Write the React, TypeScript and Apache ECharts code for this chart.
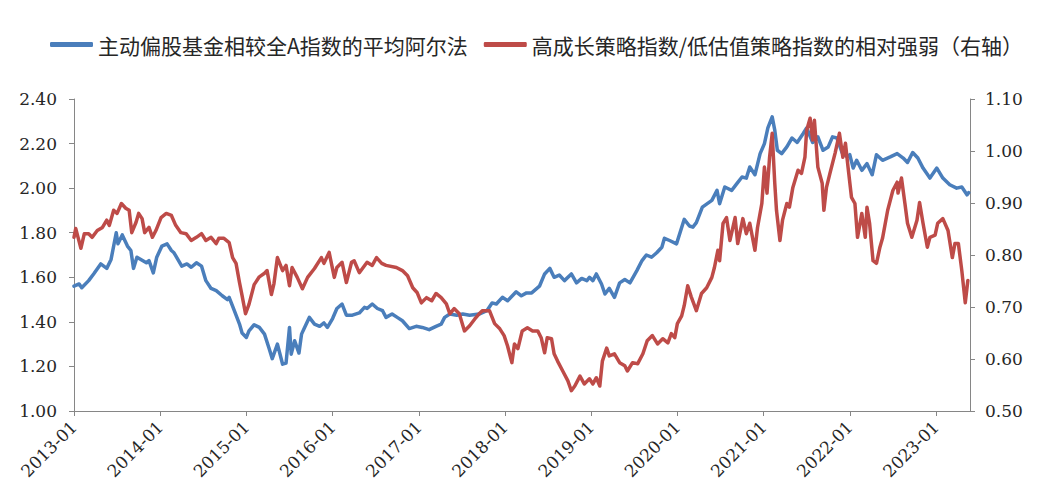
import React, { useEffect, useRef } from "react";
import * as echarts from "echarts";

const legendNames = [
  "主动偏股基金相较全A指数的平均阿尔法",
  "高成长策略指数/低估值策略指数的相对强弱（右轴）",
];

const yearTicks = [2013, 2014, 2015, 2016, 2017, 2018, 2019, 2020, 2021, 2022, 2023];

// decimal-year positions and values of the alpha series (left axis)
const alphaDates = [
  2013.0, 2013.06, 2013.09, 2013.17, 2013.23, 2013.31, 2013.38, 2013.43, 2013.49, 2013.51,
  2013.56, 2013.62, 2013.66, 2013.69, 2013.73, 2013.84, 2013.87, 2013.92, 2013.96, 2014.02,
  2014.08, 2014.13, 2014.16, 2014.25, 2014.31, 2014.36, 2014.42, 2014.48, 2014.53, 2014.59,
  2014.65, 2014.72, 2014.78, 2014.8, 2014.86, 2014.92, 2014.95, 2015.0, 2015.03, 2015.09,
  2015.15, 2015.21, 2015.26, 2015.3, 2015.36, 2015.42, 2015.46, 2015.5, 2015.52, 2015.56,
  2015.61, 2015.64, 2015.67, 2015.73, 2015.79, 2015.85, 2015.9, 2015.94, 2016.0, 2016.05,
  2016.11, 2016.16, 2016.23, 2016.31, 2016.37, 2016.4, 2016.46, 2016.52, 2016.58, 2016.62,
  2016.69, 2016.75, 2016.81, 2016.89, 2016.97, 2017.04, 2017.12, 2017.2, 2017.26, 2017.3,
  2017.36, 2017.44, 2017.51, 2017.59, 2017.7, 2017.79, 2017.85, 2017.9, 2017.97, 2018.03,
  2018.13, 2018.19, 2018.25, 2018.31, 2018.4, 2018.46, 2018.52, 2018.57, 2018.63, 2018.69,
  2018.77, 2018.83, 2018.89, 2018.95, 2018.98, 2019.02, 2019.06, 2019.12, 2019.16, 2019.21,
  2019.27, 2019.33, 2019.39, 2019.45, 2019.53, 2019.59, 2019.64, 2019.7, 2019.76, 2019.82,
  2019.85, 2019.91, 2019.99, 2020.08, 2020.14, 2020.18, 2020.22, 2020.29, 2020.4, 2020.46,
  2020.49, 2020.55, 2020.63, 2020.69, 2020.75, 2020.8, 2020.84, 2020.9, 2020.96, 2021.01,
  2021.05, 2021.1, 2021.13, 2021.16, 2021.21, 2021.27, 2021.33, 2021.39, 2021.46, 2021.5,
  2021.57, 2021.63, 2021.69, 2021.75, 2021.8, 2021.85, 2021.91, 2021.97, 2022.0, 2022.04,
  2022.08, 2022.14, 2022.2, 2022.26, 2022.31, 2022.38, 2022.47, 2022.55, 2022.62, 2022.67,
  2022.73, 2022.79, 2022.85, 2022.93, 2023.01, 2023.08, 2023.16, 2023.24, 2023.3, 2023.36,
  2023.38,
];
const alphaValues = [
  1.56, 1.57, 1.553, 1.585, 1.616, 1.66, 1.64, 1.68, 1.8, 1.75,
  1.79, 1.74, 1.72, 1.64, 1.69, 1.665, 1.675, 1.62, 1.69, 1.74,
  1.75, 1.72, 1.71, 1.65, 1.66, 1.645, 1.665, 1.65, 1.585, 1.55,
  1.54, 1.517, 1.5, 1.51, 1.45, 1.39, 1.35, 1.33, 1.36, 1.387,
  1.375, 1.345, 1.285, 1.235, 1.3, 1.21, 1.215, 1.375, 1.255, 1.315,
  1.26, 1.345, 1.37, 1.42, 1.39, 1.38, 1.395, 1.375, 1.415, 1.46,
  1.48, 1.43, 1.43, 1.44, 1.465, 1.46, 1.48, 1.46, 1.45, 1.42,
  1.435, 1.42, 1.405, 1.37, 1.38, 1.375, 1.365, 1.38, 1.39, 1.42,
  1.435, 1.43, 1.435, 1.43, 1.435, 1.45, 1.485, 1.48, 1.51, 1.495,
  1.535, 1.517, 1.53, 1.53, 1.56, 1.615, 1.64, 1.6, 1.61, 1.585,
  1.615, 1.575, 1.595, 1.585, 1.6, 1.585, 1.615, 1.57, 1.525, 1.55,
  1.51, 1.575, 1.59, 1.575, 1.63, 1.675, 1.7, 1.69, 1.71, 1.735,
  1.775, 1.765, 1.75, 1.86, 1.83, 1.825, 1.845, 1.915, 1.945, 1.99,
  1.93, 2.005, 1.99, 2.02, 2.05, 2.045, 2.095, 2.06, 2.155, 2.2,
  2.27, 2.32, 2.26, 2.17, 2.155, 2.185, 2.225, 2.205, 2.245, 2.27,
  2.205, 2.23, 2.17, 2.185, 2.23, 2.225, 2.16, 2.14, 2.15, 2.09,
  2.125, 2.08, 2.11, 2.06, 2.15, 2.125, 2.14, 2.155, 2.135, 2.115,
  2.16, 2.135, 2.09, 2.045, 2.09, 2.045, 2.015, 2.0, 2.005, 1.97,
  1.98,
];

// decimal-year positions and values of the relative-strength series (right axis)
const strengthDates = [
  2013.0, 2013.02, 2013.05, 2013.08, 2013.12, 2013.17, 2013.21, 2013.27, 2013.33, 2013.38,
  2013.41, 2013.46, 2013.5, 2013.55, 2013.6, 2013.64, 2013.67, 2013.72, 2013.75, 2013.79,
  2013.82, 2013.87, 2013.91, 2013.95, 2014.01, 2014.07, 2014.13, 2014.18, 2014.24, 2014.3,
  2014.36, 2014.42, 2014.48, 2014.53, 2014.59, 2014.65, 2014.68, 2014.74, 2014.8, 2014.84,
  2014.88, 2014.92, 2014.95, 2014.99, 2015.03, 2015.09, 2015.15, 2015.21, 2015.24, 2015.29,
  2015.32, 2015.36, 2015.42, 2015.46, 2015.5, 2015.53, 2015.59, 2015.65, 2015.71, 2015.79,
  2015.87, 2015.9, 2015.96, 2016.02, 2016.05, 2016.11, 2016.16, 2016.22, 2016.25, 2016.31,
  2016.4, 2016.46, 2016.51, 2016.57, 2016.62, 2016.74, 2016.81, 2016.87, 2016.93, 2016.98,
  2017.03, 2017.09, 2017.15, 2017.2, 2017.26, 2017.32, 2017.36, 2017.41, 2017.47, 2017.53,
  2017.59, 2017.65, 2017.7, 2017.74, 2017.82, 2017.88, 2017.94, 2017.99, 2018.03, 2018.08,
  2018.11, 2018.15, 2018.2, 2018.26, 2018.32, 2018.38, 2018.42, 2018.46, 2018.49, 2018.54,
  2018.57, 2018.61, 2018.67, 2018.73, 2018.77, 2018.81, 2018.87, 2018.92, 2018.98, 2019.02,
  2019.06, 2019.1, 2019.13, 2019.18, 2019.21, 2019.27, 2019.33, 2019.39, 2019.42, 2019.48,
  2019.54, 2019.6, 2019.65, 2019.71, 2019.77, 2019.83, 2019.89, 2019.93, 2019.97, 2020.0,
  2020.05, 2020.08, 2020.12, 2020.16, 2020.22, 2020.28, 2020.34, 2020.4, 2020.43, 2020.47,
  2020.49, 2020.53, 2020.57, 2020.61, 2020.67, 2020.7, 2020.76, 2020.8, 2020.84, 2020.9,
  2020.93, 2020.98, 2021.01, 2021.04, 2021.07, 2021.1, 2021.13, 2021.15, 2021.19, 2021.22,
  2021.27, 2021.3, 2021.34, 2021.4, 2021.44, 2021.48, 2021.5, 2021.54, 2021.57, 2021.59,
  2021.63, 2021.68, 2021.7, 2021.73, 2021.77, 2021.83, 2021.88, 2021.92, 2021.95, 2021.98,
  2022.02, 2022.06, 2022.09, 2022.14, 2022.18, 2022.2, 2022.23, 2022.27, 2022.31, 2022.35,
  2022.38, 2022.44, 2022.5, 2022.55, 2022.56, 2022.6, 2022.64, 2022.67, 2022.72, 2022.78,
  2022.81, 2022.85, 2022.9, 2022.93, 2022.99, 2023.02, 2023.08, 2023.14, 2023.19, 2023.22,
  2023.26, 2023.3, 2023.34, 2023.37,
];
const strengthValues = [
  0.834, 0.851, 0.832, 0.813, 0.841, 0.841, 0.834, 0.847, 0.853, 0.867,
  0.857, 0.886, 0.88, 0.899, 0.89, 0.886, 0.843, 0.863, 0.88, 0.87,
  0.843, 0.853, 0.834, 0.847, 0.872, 0.88, 0.876, 0.857, 0.843, 0.841,
  0.828, 0.834, 0.841, 0.828, 0.834, 0.822, 0.832, 0.832, 0.824, 0.795,
  0.784, 0.747, 0.722, 0.687, 0.705, 0.743, 0.758, 0.765, 0.77, 0.724,
  0.745, 0.795, 0.77, 0.78, 0.741, 0.776, 0.757, 0.735, 0.757, 0.774,
  0.795, 0.784, 0.805, 0.757, 0.776, 0.786, 0.747, 0.786, 0.789, 0.766,
  0.786, 0.78, 0.795, 0.784, 0.78, 0.776, 0.77, 0.76, 0.737, 0.728,
  0.708, 0.718, 0.712, 0.726, 0.718, 0.706, 0.687, 0.697, 0.687, 0.654,
  0.664, 0.677, 0.687, 0.693, 0.693, 0.668, 0.658, 0.645, 0.625, 0.593,
  0.629, 0.62, 0.654, 0.66, 0.654, 0.654, 0.641, 0.612, 0.641, 0.639,
  0.61, 0.596, 0.577, 0.558, 0.539, 0.548, 0.567, 0.552, 0.562, 0.552,
  0.564, 0.548, 0.596, 0.621, 0.606, 0.61, 0.593, 0.587, 0.577, 0.593,
  0.591, 0.61, 0.635, 0.645, 0.629, 0.639, 0.631, 0.649, 0.641, 0.668,
  0.683, 0.703, 0.741, 0.72, 0.693, 0.726, 0.737, 0.757, 0.776, 0.809,
  0.789, 0.861, 0.872, 0.828, 0.872, 0.822, 0.87, 0.841, 0.861, 0.809,
  0.853, 0.899, 0.969, 0.919, 0.988, 1.034, 0.938, 0.886, 0.828, 0.867,
  0.899, 0.892, 0.93, 0.963, 0.957, 0.988, 1.04, 1.063, 1.021, 1.059,
  0.969, 0.938, 0.886, 0.93, 0.957, 0.996, 1.034, 0.988, 1.015, 0.969,
  0.911, 0.899, 0.834, 0.88, 0.834, 0.892, 0.861, 0.789, 0.784, 0.815,
  0.832, 0.886, 0.924, 0.94, 0.919, 0.948, 0.899, 0.861, 0.834, 0.867,
  0.901, 0.861, 0.815, 0.834, 0.838, 0.861, 0.87, 0.847, 0.795, 0.822,
  0.822, 0.77, 0.708, 0.751,
];

const leftAxis = { min: 1.0, max: 2.4, interval: 0.2 };
const rightAxis = { min: 0.5, max: 1.1, interval: 0.1 };
const xAxisRange = { min: 2013, max: 2023.395 };

const BLUE = "#4A7EBB";
const RED = "#BE4B48";
const AXIS_GRAY = "#868686";
const TEXT = "#262626";
const LABEL_FONT = "'DejaVu Serif', 'Liberation Serif', serif";

export default function App() {
  const ref = useRef<HTMLDivElement>(null);

  useEffect(() => {
    if (!ref.current) return;
    const chart = echarts.init(ref.current, null, { renderer: "svg" });
    const alphaData = alphaDates.map((d, i) => [d, alphaValues[i]]);
    const strengthData = strengthDates.map((d, i) => [d, strengthValues[i]]);

    chart.setOption({
      animation: false,
      backgroundColor: "#ffffff",
      legend: {
        top: 34,
        left: 50,
        padding: 0,
        itemGap: 16,
        itemWidth: 43,
        itemHeight: 5,
        icon: "roundRect",
        textStyle: {
          fontSize: 21,
          color: TEXT,
          fontFamily: "'Noto Sans CJK SC', sans-serif",
        },
        data: [
          { name: legendNames[0], itemStyle: { color: BLUE } },
          { name: legendNames[1], itemStyle: { color: RED } },
        ],
      },
      grid: { left: 74, right: 71, top: 99, bottom: 92, containLabel: false },
      xAxis: {
        type: "value",
        min: xAxisRange.min,
        max: xAxisRange.max,
        interval: 1,
        splitLine: { show: false },
        axisLine: { show: true, lineStyle: { color: AXIS_GRAY, width: 1 } },
        axisTick: {
          show: true,
          length: 5,
          customValues: yearTicks,
          lineStyle: { color: AXIS_GRAY },
        },
        axisLabel: {
          rotate: 45,
          margin: 13,
          customValues: yearTicks,
          fontSize: 17,
          color: TEXT,
          fontFamily: LABEL_FONT,
          formatter: (v: number) => `${Math.round(v)}-01`,
        },
      },
      yAxis: [
        {
          type: "value",
          position: "left",
          min: leftAxis.min,
          max: leftAxis.max,
          interval: leftAxis.interval,
          splitLine: { show: false },
          axisLine: { show: true, lineStyle: { color: AXIS_GRAY } },
          axisTick: { show: true, length: 5, lineStyle: { color: AXIS_GRAY } },
          axisLabel: {
            margin: 17,
            fontSize: 17,
            color: TEXT,
            fontFamily: LABEL_FONT,
            formatter: (v: number) => v.toFixed(2),
          },
        },
        {
          type: "value",
          position: "right",
          min: rightAxis.min,
          max: rightAxis.max,
          interval: rightAxis.interval,
          splitLine: { show: false },
          axisLine: { show: true, lineStyle: { color: AXIS_GRAY } },
          axisTick: { show: true, length: 5, lineStyle: { color: AXIS_GRAY } },
          axisLabel: {
            margin: 15,
            fontSize: 17,
            color: TEXT,
            fontFamily: LABEL_FONT,
            formatter: (v: number) => v.toFixed(2),
          },
        },
      ],
      series: [
        {
          name: legendNames[0],
          type: "line",
          yAxisIndex: 0,
          data: alphaData,
          showSymbol: false,
          symbol: "none",
          lineStyle: { color: BLUE, width: 3.5, join: "round", cap: "round" },
          itemStyle: { color: BLUE },
          z: 2,
        },
        {
          name: legendNames[1],
          type: "line",
          yAxisIndex: 1,
          data: strengthData,
          showSymbol: false,
          symbol: "none",
          lineStyle: { color: RED, width: 3.5, join: "round", cap: "round" },
          itemStyle: { color: RED },
          z: 3,
        },
      ],
    });

    return () => {
      chart.dispose();
    };
  }, []);

  return (
    <div
      ref={ref}
      style={{ position: "fixed", left: 0, top: 0, width: 1041, height: 503, background: "#fff" }}
    />
  );
}
